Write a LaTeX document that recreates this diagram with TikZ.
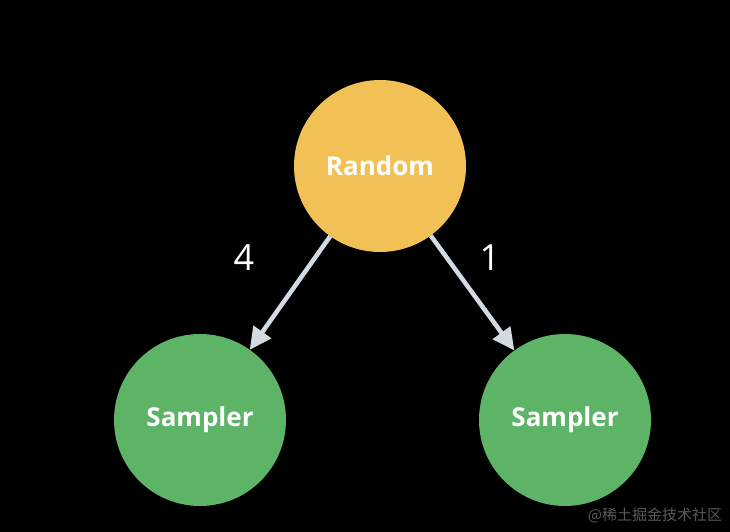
\documentclass[tikz,border=0pt]{standalone}
\usepackage{fontspec}
\setmainfont{Open Sans}
\newfontfamily\cjkfont{Noto Sans CJK SC}
\usetikzlibrary{arrows.meta}
\definecolor{bgc}{HTML}{000000}
\definecolor{yel}{HTML}{F2C155}
\definecolor{grn}{HTML}{5DB366}
\definecolor{arr}{HTML}{D3DAE2}
\definecolor{wm}{HTML}{5A5A5A}
\tikzset{
  ball/.style={circle, minimum size=172pt, inner sep=0pt, outer sep=0pt, text=white, font=\fontsize{26}{30}\selectfont\bfseries},
  conn/.style={draw=arr, line width=4.5pt, -{Triangle[length=22pt,width=21pt]}},
  weight/.style={text=white, font=\fontsize{36}{40}\selectfont},
}
\begin{document}
\begin{tikzpicture}[x=1pt,y=-1pt]
\fill[bgc] (0,0) rectangle (730,532);
\useasboundingbox (0,0) rectangle (730,532);
\node[ball, fill=yel] (rand) at (380,166) {Random};
\node[ball, fill=grn] (s1) at (200,420) {Sampler};
\node[ball, fill=grn] (s2) at (565,420) {Sampler};
\draw[conn] (rand) -- (s1);
\draw[conn] (rand) -- (s2);
\node[weight] (w1) at (244,258) {4};
\node[weight] (w2) at (490,258) {1};
\node[text=wm, font=\cjkfont\fontsize{15}{17}\selectfont] (wmk) at (655,515) {@稀土掘金技术社区};
\end{tikzpicture}
\end{document}
